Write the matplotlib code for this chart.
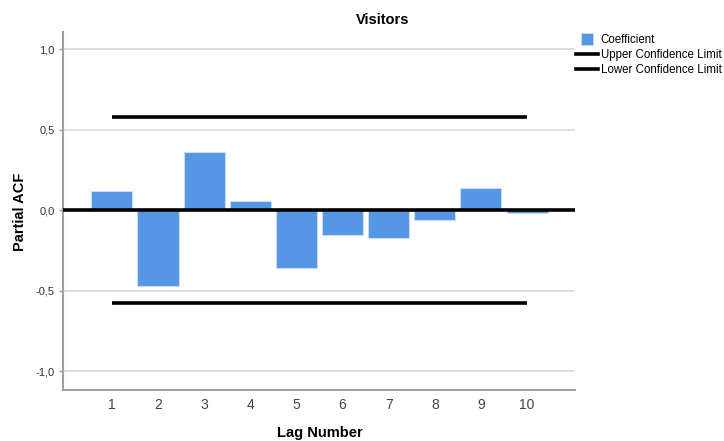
import numpy as np
import matplotlib.pyplot as plt
from matplotlib.lines import Line2D
from matplotlib.ticker import FuncFormatter

plt.rcParams['font.family'] = ['Liberation Sans', 'DejaVu Sans']

lags = np.arange(1, 11)
pacf = [0.121, -0.470, 0.362, 0.058, -0.362, -0.155, -0.174, -0.062, 0.139, -0.017]
upper_limit = [0.58] * 10
lower_limit = [-0.58] * 10

fig = plt.figure(figsize=(7.24, 4.41), dpi=100)
ax = fig.add_axes([63 / 724, 1 - 390 / 441, 512 / 724, 358 / 441])

for y in [-1.0, -0.5, 0.5, 1.0]:
    ax.axhline(y, color='#d9d9d9', lw=1.2, zorder=0)

ax.bar(lags, pacf, width=0.89, color='#5596e5', edgecolor='#c6dcf7', lw=0.8, zorder=2)
ax.axhline(0, color='black', lw=2.6, zorder=3)
ax.plot(lags, upper_limit, color='black', lw=2.6, solid_capstyle='butt', zorder=3)
ax.plot(lags, lower_limit, color='black', lw=2.6, solid_capstyle='butt', zorder=3)

ax.set_xlim(-0.06, 11.04)
ax.set_ylim(-1.118, 1.106)
ax.set_xticks(lags)
ax.set_yticks([-1.0, -0.5, 0.0, 0.5, 1.0])
ax.yaxis.set_major_formatter(FuncFormatter(lambda v, p: f'{v:.1f}'.replace('.', ',')))
ax.tick_params(axis='x', length=0, labelsize=10, colors='#444444', pad=6)
ax.tick_params(axis='y', length=3, width=1, color='#a0a0a0', labelsize=8, labelcolor='#333333', pad=3)
for s in ['top', 'right']:
    ax.spines[s].set_visible(False)
for s in ['left', 'bottom']:
    ax.spines[s].set_color('#a0a0a0')
    ax.spines[s].set_linewidth(1.5)

fig.text(383 / 724, 1 - 20 / 441, 'Visitors', ha='center', va='center', fontsize=10.5, fontweight='bold')
fig.text(20 / 724, 1 - 212 / 441, 'Partial ACF', ha='center', va='center', rotation=90,
         fontsize=10.5, fontweight='bold')
fig.text(320 / 724, 1 - 433 / 441, 'Lag Number', ha='center', va='center', fontsize=10.5, fontweight='bold')

handles = [
    Line2D([], [], marker='s', linestyle='none', markersize=8,
           markerfacecolor='#5596e5', markeredgecolor='#c6dcf7', markeredgewidth=0.6),
    Line2D([], [], color='black', lw=2.6),
    Line2D([], [], color='black', lw=2.6),
]
labels = ['Coefficient', 'Upper Confidence Limit', 'Lower Confidence Limit']
fig.legend(handles, labels, loc='upper left', bbox_to_anchor=(576 / 724, 1 - 34 / 441),
           frameon=False, fontsize=8.3, handlelength=1.9, handletextpad=0.25,
           labelspacing=0.28, borderpad=0, borderaxespad=0)

fig.savefig('out.png', dpi=100)
